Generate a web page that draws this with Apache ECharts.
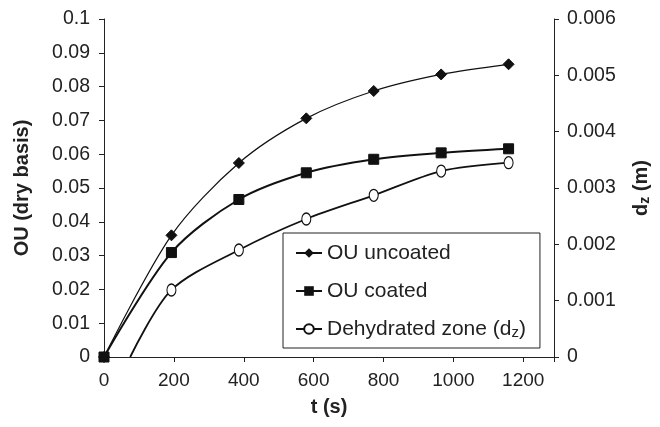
<!DOCTYPE html>
<html><head><meta charset="utf-8">
<script src="https://cdn.jsdelivr.net/npm/echarts@6/dist/echarts.min.js"></script>
<style>html,body{margin:0;padding:0;background:#fff}#c{width:660px;height:427px}</style>
</head><body><div id="c"></div>
<script>
var times = [0, 193, 386, 579, 772, 965, 1158];
var ouUncoated = [0, 0.036, 0.0574, 0.0706, 0.0787, 0.0836, 0.0866];
var ouCoated = [0, 0.0309, 0.0466, 0.0545, 0.0585, 0.0604, 0.0616];
var dzTimes = [75, 193, 386, 579, 772, 965, 1158];
var dzValues = [0, 0.00119, 0.0019, 0.00245, 0.00287, 0.0033, 0.00345];
var names = ['OU uncoated', 'OU coated', 'Dehydrated zone (dz)'];

function pairs(xs, ys){ return xs.map(function(x,i){ return [x, ys[i]]; }); }
var dzData = pairs(dzTimes, dzValues);
dzData[0] = {value: dzData[0], symbol: 'none'};

var font = 'Liberation Sans, Arial, sans-serif';
var axisCol = '#222';
var chart = echarts.init(document.getElementById('c'));
chart.setOption({
  animation: false,
  textStyle: {fontFamily: font, color: '#222'},
  grid: {left: 104, top: 19, right: 103, bottom: 70},
  legend: {
    orient: 'vertical', left: 283, top: 233,
    padding: [9, 14, 8, 12], itemGap: 16, itemWidth: 26, itemHeight: 12,
    borderColor: '#222', borderWidth: 1, backgroundColor: '#fff',
    data: names,
    textStyle: {fontSize: 21, color: '#222', fontFamily: font, lineHeight: 22,
      rich: {n: {fontSize: 21, lineHeight: 22, fontFamily: font, color: '#222'},
             s: {fontSize: 15, lineHeight: 10, verticalAlign: 'bottom', fontFamily: font, color: '#222'}}},
    formatter: function(n){ return n === names[2] ? '{n|Dehydrated zone (d}{s|z}{n|)}' : n; }
  },
  xAxis: {
    type: 'value', min: 0, max: 1288, interval: 200,
    name: 't (s)', nameLocation: 'middle', nameGap: 40,
    nameTextStyle: {fontSize: 20, fontWeight: 'bold', color: '#222', fontFamily: font},
    splitLine: {show: false},
    axisLine: {lineStyle: {color: axisCol, width: 1}},
    axisTick: {length: 5, lineStyle: {color: axisCol}},
    axisLabel: {fontSize: 19, color: '#222', margin: 14, fontFamily: font,
      formatter: function(v){ return (v <= 1200 && v % 200 === 0) ? String(v) : ''; }}
  },
  yAxis: [{
    type: 'value', min: 0, max: 0.1, interval: 0.01,
    name: 'OU (dry basis)', nameLocation: 'middle', nameGap: 72, nameRotate: 90,
    nameTextStyle: {fontSize: 20, fontWeight: 'bold', color: '#222', fontFamily: font},
    splitLine: {show: false},
    axisLine: {show: true, lineStyle: {color: axisCol}},
    axisTick: {show: true, length: 5, lineStyle: {color: axisCol}},
    axisLabel: {fontSize: 19.5, color: '#222', margin: 14, fontFamily: font}
  }, {
    type: 'value', min: 0, max: 0.006, interval: 0.001, position: 'right',
    name: '{b|d}{s|z}{b| (m)}', nameLocation: 'middle', nameGap: 76, nameRotate: 90,
    nameTextStyle: {fontSize: 20, fontWeight: 'bold', color: '#222', fontFamily: font, padding: [0, 0, 0, 0],
      rich: {b: {fontSize: 20, fontWeight: 'bold', lineHeight: 22, fontFamily: font, color: '#222'},
             s: {fontSize: 14, fontWeight: 'bold', lineHeight: 10, verticalAlign: 'bottom', fontFamily: font, color: '#222'}}},
    splitLine: {show: false},
    axisLine: {show: true, lineStyle: {color: axisCol}},
    axisTick: {show: true, length: 5, lineStyle: {color: axisCol}},
    axisLabel: {fontSize: 19.5, color: '#222', margin: 13, fontFamily: font}
  }],
  series: [{
    name: names[0], type: 'line', smooth: 0.3, yAxisIndex: 0,
    data: pairs(times, ouUncoated),
    symbol: 'diamond', symbolSize: 11, showAllSymbol: true,
    lineStyle: {color: '#111', width: 1.2},
    itemStyle: {color: '#111', borderColor: '#111'}
  }, {
    name: names[1], type: 'line', smooth: 0.3, yAxisIndex: 0,
    data: pairs(times, ouCoated),
    symbol: 'rect', symbolSize: 10, showAllSymbol: true,
    lineStyle: {color: '#111', width: 2},
    itemStyle: {color: '#111', borderColor: '#111'}
  }, {
    name: names[2], type: 'line', smooth: 0.3, yAxisIndex: 1,
    data: dzData,
    symbol: 'circle', symbolSize: [9, 12], showAllSymbol: true,
    lineStyle: {color: '#111', width: 1.8},
    itemStyle: {color: '#fff', borderColor: '#111', borderWidth: 1.2}
  }]
});
</script></body></html>
